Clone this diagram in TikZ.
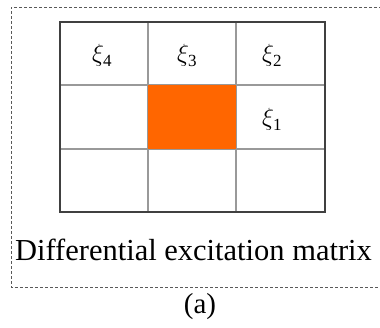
\documentclass[tikz,border=0pt]{standalone}
\usepackage{fontspec}
\setmainfont{Liberation Serif}
\newcommand{\xil}[1]{{\fontsize{26}{26}\selectfont$\xi$\kern-1pt\raisebox{-5.5pt}{\fontsize{17}{17}\selectfont #1}}}
\begin{document}
\begin{tikzpicture}[x=1pt,y=-1pt,
  frame/.style={draw=black!65,line width=0.9pt,dash pattern=on 3pt off 2pt},
  inner/.style={draw=black!40,line width=1.2pt},
  outer/.style={draw=black!75,line width=1.6pt},
  lbl/.style={inner sep=0pt,anchor=base west}]
\useasboundingbox (0,0) rectangle (380,327);
\draw[frame] (392,7) -- (11,7) -- (11,287) -- (392,287);
% inner grid lines
\draw[inner] (148,22) -- (148,212) (236,22) -- (236,212)
             (60,85) -- (325,85) (60,149) -- (325,149);
% orange cell
\fill[fill={rgb,255:red,255;green,102;blue,0}] (148,85) rectangle (236,149);
\draw[outer] (60,22) rectangle (325,212);
% labels
\node[lbl] (x4) at (92,61) {\xil{4}};
\node[lbl] (x3) at (177,61) {\xil{3}};
\node[lbl] (x2) at (262,61) {\xil{2}};
\node[lbl] (x1) at (262,125) {\xil{1}};
\node[inner sep=0pt,anchor=base] (title) at (193.5,260) {\fontsize{30.5}{30.5}\selectfont Differential excitation matrix};
\node[inner sep=0pt,anchor=base] (cap) at (200,313) {\fontsize{29}{29}\selectfont (a)};
\end{tikzpicture}
\end{document}
